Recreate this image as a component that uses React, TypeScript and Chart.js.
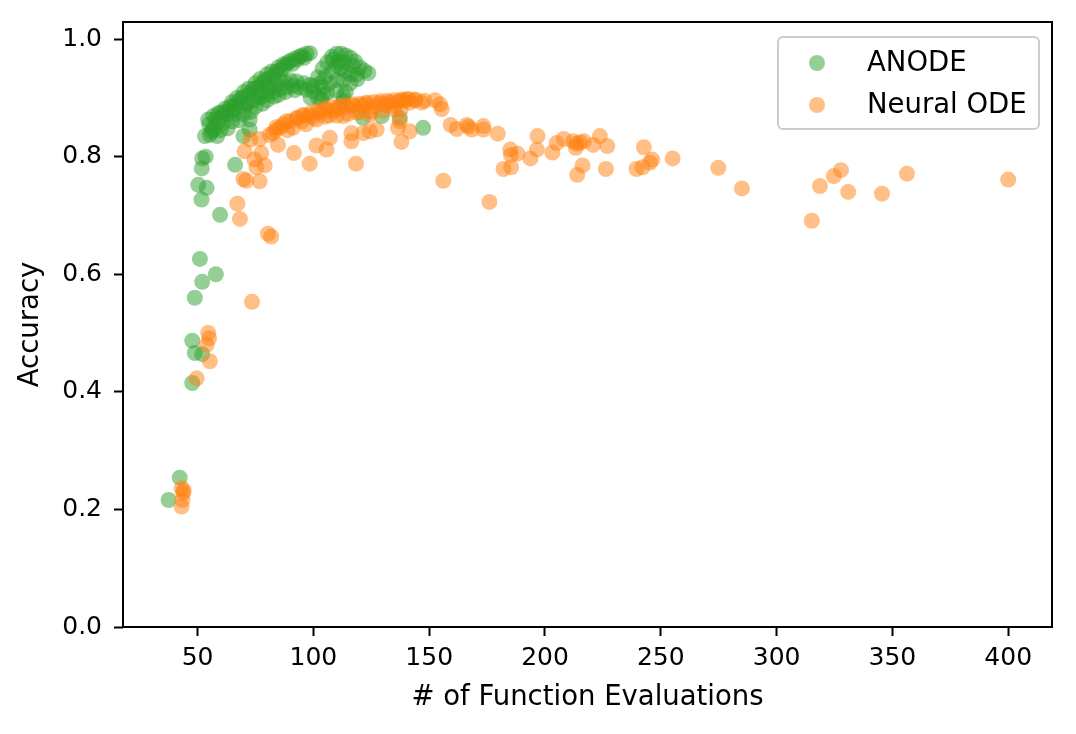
import { useEffect, useRef } from 'react';
import { Chart, registerables } from 'chart.js';

Chart.register(...registerables);

// NFE vs accuracy
const anodePoints: [number, number][] = [
  // low-NFE tail
  [37.5, 0.216], [42.3, 0.254], [47.7, 0.415], [47.7, 0.487], [48.8, 0.466], [52, 0.464],
  [48.8, 0.56], [51, 0.626], [52, 0.587], [57.9, 0.6], [59.7, 0.701], [66.2, 0.786], [69.8, 0.835],
  [50.3, 0.752], [51.7, 0.727], [53.9, 0.747], [52, 0.797], [53.5, 0.8], [51.8, 0.78],
  [53.2, 0.835], [55.3, 0.837], [56.8, 0.846], [54.6, 0.863], [56.8, 0.869], [58.9, 0.874],
  [72.5, 0.863], [72.5, 0.846],
  // first arm, upper edge
  [55, 0.855], [58, 0.865], [60, 0.875], [62, 0.882], [65, 0.893], [67, 0.9], [70, 0.91],
  [72, 0.916], [75, 0.925], [77, 0.932], [80, 0.94], [82, 0.945], [85, 0.952], [87, 0.957],
  [90, 0.963], [92, 0.967], [95, 0.972], [97, 0.975], [98.5, 0.976],
  [57, 0.85], [59, 0.86], [61, 0.87], [63, 0.878], [64, 0.885], [66, 0.888], [68, 0.895],
  [69, 0.9], [71, 0.903], [73, 0.908], [74, 0.915], [76, 0.918], [78, 0.925], [79, 0.93],
  [81, 0.933], [83, 0.938], [84, 0.945], [86, 0.948], [88, 0.955], [89, 0.96], [91, 0.958],
  [93, 0.965], [94, 0.97], [96, 0.968],
  // first arm, middle and lower rows
  [56, 0.842], [61, 0.857], [66, 0.872], [71, 0.888], [76, 0.903], [81, 0.918], [86, 0.93],
  [58.5, 0.835], [63, 0.848], [68, 0.862], [73, 0.876], [78, 0.89], [83, 0.902], [88, 0.91],
  [60, 0.845], [65, 0.86], [70, 0.872], [75, 0.885], [80, 0.896], [85, 0.905], [92, 0.913],
  // lower band
  [62.6, 0.872], [65.4, 0.878], [68.3, 0.885], [71, 0.89], [73.9, 0.895], [76.8, 0.9],
  [79.7, 0.905], [82.5, 0.91], [85.4, 0.915], [88.3, 0.918], [91.2, 0.92], [94.1, 0.918],
  [97, 0.914], [99.9, 0.911], [77, 0.91], [80.8, 0.918], [84, 0.923], [87.5, 0.928],
  [90, 0.93], [92.8, 0.928], [96, 0.925], [98.8, 0.922], [98.8, 0.9], [102, 0.9], [104.2, 0.905],
  // second arm
  [100, 0.92], [102, 0.935], [104, 0.95], [106, 0.96], [108, 0.97], [110, 0.975], [112, 0.975],
  [114, 0.972], [116, 0.968], [118, 0.962], [120, 0.952], [122, 0.946], [123.7, 0.942],
  [105, 0.935], [108, 0.945], [110, 0.955], [112, 0.95], [114, 0.945], [116, 0.94], [118.8, 0.94],
  [104, 0.918], [107, 0.925], [110, 0.93], [113, 0.93], [116, 0.925], [119, 0.932], [106, 0.908],
  [110, 0.912], [114, 0.91], [108.5, 0.965], [111, 0.962], [113, 0.96], [117, 0.955], [103, 0.925],
  // hidden under / just below the orange band
  [112.9, 0.894], [103.4, 0.897], [112.9, 0.903], [121.4, 0.866], [129.5, 0.869], [137.3, 0.866],
  [147.4, 0.849],
];

const neuralOdePoints: [number, number][] = [
  [43.1, 0.236], [43.8, 0.228], [43.1, 0.205], [43.5, 0.216], [44, 0.232],
  [49.6, 0.423], [54.6, 0.5], [55, 0.491], [53.9, 0.48], [55.3, 0.452], [73.5, 0.553],
  [67.2, 0.72], [68.3, 0.694], [80.4, 0.669], [81.8, 0.664],
  [69.8, 0.762], [71, 0.759], [76.8, 0.758], [70.3, 0.809], [74.6, 0.795], [75.4, 0.782],
  [79, 0.785], [77.5, 0.806], [72.8, 0.829], [76.8, 0.83], [82.5, 0.84], [84.7, 0.82],
  [91.6, 0.806], [98.4, 0.788], [118.4, 0.788], [105.7, 0.812], [107.1, 0.832], [101.3, 0.819],
  [116.4, 0.826], [116.4, 0.84], [121.5, 0.84], [124.4, 0.843], [127.3, 0.846], [138, 0.825],
  [136.5, 0.849], [141.6, 0.843], [137.3, 0.86],
  // dense band
  [81.1, 0.837], [83.8, 0.845], [85.8, 0.85], [88.3, 0.86], [88.8, 0.845], [91.2, 0.849],
  [92.8, 0.865], [95.5, 0.871], [96.8, 0.855], [98.8, 0.87], [101.3, 0.863], [102.8, 0.875],
  [105.7, 0.88], [106.8, 0.87], [108.8, 0.878], [110.8, 0.882], [112.9, 0.869], [113.8, 0.885],
  [117.2, 0.886], [118.8, 0.875], [120.8, 0.887], [122.8, 0.89], [124.4, 0.871], [125.8, 0.885],
  [128.8, 0.891], [130.8, 0.888], [132.7, 0.892], [134.7, 0.886], [136.7, 0.894], [137.7, 0.88],
  [138.7, 0.895], [140.2, 0.897], [141.7, 0.892], [143.7, 0.896], [146.7, 0.892], [152.5, 0.896],
  [154.7, 0.889], [155.4, 0.881],
  [84, 0.85], [87, 0.855], [90, 0.86], [93, 0.866], [96, 0.87], [99, 0.875], [102, 0.878],
  [105, 0.882], [108, 0.884], [111, 0.886], [114, 0.888], [117, 0.889], [120, 0.89], [123, 0.892],
  [126, 0.893], [129, 0.894], [132, 0.895], [135, 0.896], [138, 0.897], [141, 0.898], [144, 0.897],
  [148, 0.895], [95, 0.86], [100, 0.866], [105, 0.868], [110, 0.87], [115, 0.873], [120, 0.876],
  [125, 0.877], [130, 0.878], [135, 0.88],
  // long tail
  [156.1, 0.759], [159.3, 0.854], [161.9, 0.847], [166.2, 0.854], [166.9, 0.851], [168.4, 0.846],
  [173.4, 0.846], [173.4, 0.852], [179.6, 0.839], [176, 0.723], [185, 0.812], [185.3, 0.803],
  [188.1, 0.805], [182.1, 0.779], [185.4, 0.782], [196.8, 0.835], [196.5, 0.812], [193.7, 0.797],
  [203.2, 0.807], [205, 0.823], [208.1, 0.83], [212.2, 0.826], [213.7, 0.822], [215.1, 0.824],
  [216.8, 0.826], [213.3, 0.815], [220.8, 0.82], [223.7, 0.835], [226.9, 0.818], [213.9, 0.769],
  [216.2, 0.785], [226.3, 0.779], [242.7, 0.816], [239.5, 0.779], [242.1, 0.782], [245.3, 0.79],
  [246.3, 0.795], [255.1, 0.797], [274.8, 0.781], [285, 0.746], [315.2, 0.691], [318.7, 0.75],
  [324.7, 0.767], [327.8, 0.777], [330.9, 0.74], [345.5, 0.737], [356.3, 0.771], [400, 0.761],
];

const seriesLabels = ['ANODE', 'Neural ODE'];
const seriesColors = ['rgba(44, 160, 44, 0.5)', 'rgba(255, 127, 14, 0.5)'];
const xTicks = [50, 100, 150, 200, 250, 300, 350, 400];
const yTicks = [0, 0.2, 0.4, 0.6, 0.8, 1.0];

const FONT = "'DejaVu Sans', sans-serif";
const TICK_SIZE = 25;
const LABEL_SIZE = 27.5;
const MARKER_R = 8;

// spines on all four sides + matplotlib-like legend box
const framePlugin = {
  id: 'frame',
  afterDatasetsDraw(chart: Chart) {
    const { ctx, chartArea } = chart;
    ctx.save();
    ctx.strokeStyle = '#000';
    ctx.lineWidth = 2;
    ctx.strokeRect(chartArea.left, chartArea.top, chartArea.right - chartArea.left, chartArea.bottom - chartArea.top);
    ctx.restore();
  },
  afterDraw(chart: Chart) {
    const { ctx, chartArea } = chart;
    const boxW = 261;
    const boxH = 92;
    const x0 = chartArea.right - 13 - boxW;
    const y0 = chartArea.top + 15;
    ctx.save();
    ctx.beginPath();
    ctx.roundRect(x0, y0, boxW, boxH, 5);
    ctx.fillStyle = 'rgba(255,255,255,0.8)';
    ctx.fill();
    ctx.strokeStyle = '#cccccc';
    ctx.lineWidth = 2;
    ctx.stroke();
    ctx.font = `${LABEL_SIZE}px ${FONT}`;
    ctx.textBaseline = 'middle';
    seriesLabels.forEach((label, i) => {
      const cy = y0 + 26 + i * 42;
      ctx.beginPath();
      ctx.arc(x0 + 39, cy, MARKER_R, 0, Math.PI * 2);
      ctx.fillStyle = seriesColors[i];
      ctx.fill();
      ctx.fillStyle = '#000';
      ctx.fillText(label, x0 + 89, cy + 1);
    });
    ctx.restore();
  },
};

const App = () => {
  const canvasRef = useRef<HTMLCanvasElement>(null);

  useEffect(() => {
    if (!canvasRef.current) return;
    const toXY = (pts: [number, number][]) => pts.map(([x, y]) => ({ x, y }));

    const chart = new Chart(canvasRef.current, {
      type: 'scatter',
      data: {
        datasets: [
          {
            label: seriesLabels[0],
            data: toXY(anodePoints),
            backgroundColor: seriesColors[0],
            borderWidth: 0,
            pointRadius: MARKER_R,
            pointHoverRadius: MARKER_R,
            order: 2,
          },
          {
            label: seriesLabels[1],
            data: toXY(neuralOdePoints),
            backgroundColor: seriesColors[1],
            borderWidth: 0,
            pointRadius: MARKER_R,
            pointHoverRadius: MARKER_R,
            order: 1,
          },
        ],
      },
      options: {
        animation: false,
        responsive: true,
        maintainAspectRatio: false,
        layout: { padding: { top: 22, right: 24, left: 0, bottom: 0 } },
        plugins: {
          legend: { display: false },
          tooltip: { enabled: false },
        },
        scales: {
          x: {
            type: 'linear',
            min: 17.8,
            max: 418.9,
            afterBuildTicks: (scale: any) => {
              scale.ticks = xTicks.map((v) => ({ value: v }));
            },
            afterFit: (scale: any) => {
              scale.height = 107;
              scale.paddingLeft = 0;
              scale.paddingRight = 0;
            },
            border: { display: false },
            grid: {
              drawOnChartArea: false,
              drawTicks: true,
              tickLength: 9,
              tickWidth: 2,
              tickColor: '#000',
            },
            ticks: {
              color: '#000',
              padding: 7,
              maxRotation: 0,
              font: { family: FONT, size: TICK_SIZE },
              callback: (v: any) => String(v),
            },
            title: {
              display: true,
              text: '# of Function Evaluations',
              color: '#000',
              font: { family: FONT, size: LABEL_SIZE },
              padding: { top: 0, bottom: 20 },
            },
          },
          y: {
            type: 'linear',
            min: 0,
            max: 1.029,
            afterBuildTicks: (scale: any) => {
              scale.ticks = yTicks.map((v) => ({ value: v }));
            },
            afterFit: (scale: any) => {
              scale.width = 123;
              scale.paddingTop = 0;
              scale.paddingBottom = 0;
            },
            border: { display: false },
            grid: {
              drawOnChartArea: false,
              drawTicks: true,
              tickLength: 9,
              tickWidth: 2,
              tickColor: '#000',
            },
            ticks: {
              color: '#000',
              padding: 12,
              font: { family: FONT, size: TICK_SIZE },
              callback: (v: any) => Number(v).toFixed(1),
            },
            title: {
              display: true,
              text: 'Accuracy',
              color: '#000',
              font: { family: FONT, size: LABEL_SIZE },
              padding: { top: 14, bottom: 0 },
            },
          },
        },
      },
      plugins: [framePlugin],
    });

    return () => {
      chart.destroy();
    };
  }, []);

  return (
    <div style={{ position: 'fixed', left: 0, top: 0, width: 1076, height: 734, background: '#fff' }}>
      <canvas ref={canvasRef} />
    </div>
  );
};

export default App;
